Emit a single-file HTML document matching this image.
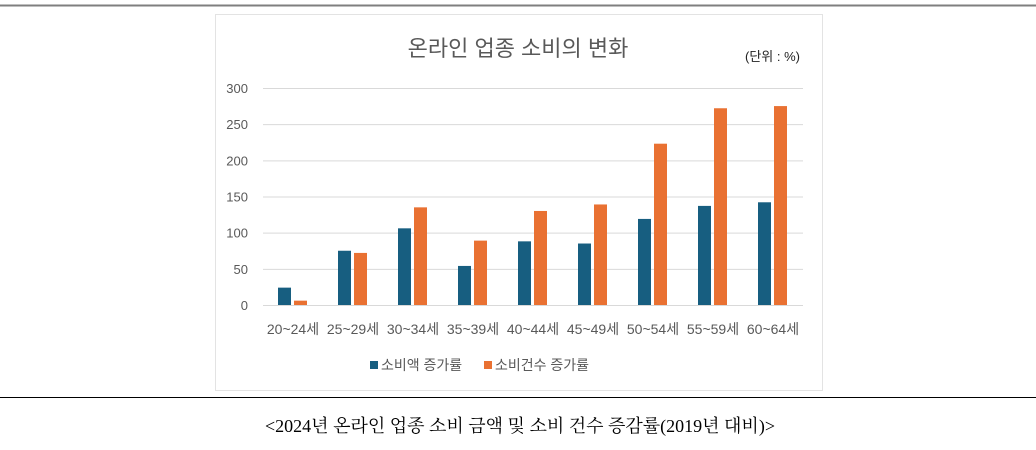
<!DOCTYPE html>
<html><head><meta charset="utf-8"><style>
body{margin:0;background:#fff;width:1036px;height:445px;overflow:hidden;font-family:"Liberation Sans","Noto Sans CJK KR",sans-serif;}
</style></head><body>
<svg width="1036" height="445" xmlns="http://www.w3.org/2000/svg">
<line x1="0" y1="5.5" x2="1036" y2="5.5" stroke="#7f7f7f" stroke-width="2"/>
<rect x="215.5" y="14.5" width="607" height="376" fill="#fff" stroke="#e3e3e3"/>
<text x="518" y="56" text-anchor="middle" font-size="22" fill="#595959" font-family="Liberation Sans, Noto Sans CJK KR, sans-serif">온라인 업종 소비의 변화</text>
<text x="800" y="61" text-anchor="end" font-size="13" fill="#222" font-family="Liberation Sans, Noto Sans CJK KR, sans-serif">(단위 : %)</text>
<g id="grid"></g><g id="bars"></g><g id="xl"></g>
<g>
<rect x="370" y="361" width="8" height="8" fill="#175e80"/>
<text x="381" y="370" font-size="14" fill="#595959" font-family="Liberation Sans, Noto Sans CJK KR, sans-serif">소비액 증가률</text>
<rect x="484" y="361" width="8" height="8" fill="#e97132"/>
<text x="495" y="370" font-size="14" fill="#595959" font-family="Liberation Sans, Noto Sans CJK KR, sans-serif">소비건수 증가률</text>
</g>
<line x1="0" y1="397.5" x2="1036" y2="397.5" stroke="#000" stroke-width="1"/>
<text x="520" y="432" text-anchor="middle" font-size="18" fill="#000" font-family="Liberation Serif, Noto Serif CJK SC, serif">&lt;2024년 온라인 업종 소비 금액 및 소비 건수 증감률(2019년 대비)&gt;</text>
</svg>
<script>
const categories=["20~24세","25~29세","30~34세","35~39세","40~44세","45~49세","50~54세","55~59세","60~64세"];
const amountValues=[24,75,106,54,88,85,119,137,142];
const countValues=[6,72,135,89,130,139,223,272,275];
const tickValues=[0,50,100,150,200,250,300];
const NS="http://www.w3.org/2000/svg";
const x0=263,x1=803,y0=305,yTop=88,maxV=300;
const yS=v=>y0-(v/maxV)*(y0-yTop);
const bw=(x1-x0)/categories.length;
const xC=i=>x0+bw*(i+0.5);
function mk(t,a,p){const e=document.createElementNS(NS,t);for(const k in a)e.setAttribute(k,a[k]);p.appendChild(e);return e;}
const grid=document.getElementById('grid'),bars=document.getElementById('bars'),xl=document.getElementById('xl');
tickValues.forEach(v=>{
 const l=mk('line',{x1:x0,x2:x1,y1:yS(v)+0.5,y2:yS(v)+0.5,stroke:'#d9d9d9','stroke-width':1},grid);
 
 
 const t=mk('text',{x:248,y:yS(v)+5,'text-anchor':'end','font-size':13,fill:'#595959'},grid);
 t.textContent=v;
 
 
});
categories.forEach((c,i)=>{
 const cx=xC(i);
 const b1=mk('rect',{x:cx-15,y:yS(amountValues[i]),width:13,height:y0-yS(amountValues[i]),fill:'#175e80'},bars);
 
 
 const b2=mk('rect',{x:cx+1,y:yS(countValues[i]),width:13,height:y0-yS(countValues[i]),fill:'#e97132'},bars);
 
 
 const t=mk('text',{x:cx,y:334,'text-anchor':'middle','font-size':14,fill:'#595959'},xl);
 t.textContent=c;
 
 
});
</script>
</body></html>
